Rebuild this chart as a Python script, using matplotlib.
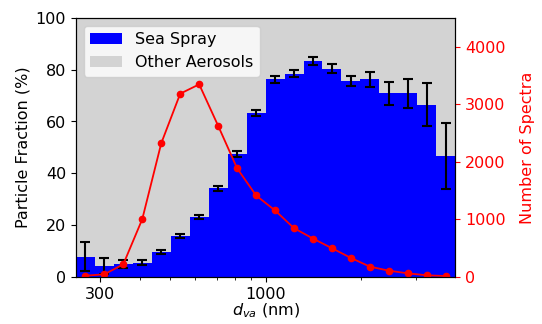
import numpy as np
import matplotlib
matplotlib.use("Agg")
import matplotlib.pyplot as plt
import matplotlib.ticker as plticker

# bin edges in d_va (nm), log spaced
bin_edges = np.logspace(2.4, 3.6, 21)
bin_centers = np.sqrt(bin_edges[:-1] * bin_edges[1:])

# sea spray fraction (%) and its uncertainty
sea_spray = [7.8, 4.2, 5.0, 5.5, 9.6, 15.8, 23.0, 34.2, 47.5, 63.2,
             76.3, 78.4, 83.4, 80.3, 75.7, 76.3, 70.9, 70.9, 66.5, 46.7]
sea_spray_err = [5.6, 3.0, 1.5, 1.0, 0.8, 0.8, 0.8, 1.0, 1.2, 1.2,
                 1.3, 1.3, 1.5, 1.7, 2.0, 2.8, 4.4, 5.5, 8.2, 12.9]

# number of spectra per bin
n_spectra = [23, 47, 221, 1005, 2322, 3183, 3345, 2625, 1887, 1416,
             1155, 848, 667, 500, 331, 180, 110, 64, 30, 17]

fs = 11.5

fig = plt.figure(figsize=(5.42, 3.24), dpi=100)
ax = fig.add_axes([0.140, 0.145, 0.700, 0.800])

widths = np.diff(bin_edges)
other = [100 - v for v in sea_spray]
ax.bar(bin_edges[:-1], sea_spray, width=widths, align='edge', color='blue', label='Sea Spray')
ax.bar(bin_edges[:-1], other, width=widths, bottom=sea_spray, align='edge',
       color='lightgrey', label='Other Aerosols')
ax.errorbar(bin_centers, sea_spray, yerr=sea_spray_err, fmt='none', ecolor='black',
            elinewidth=1.5, capsize=3.5, capthick=1.5)

ax.set_xscale('log')
ax.set_xlim(bin_edges[0], bin_edges[-1])
ax.set_ylim(0, 100)
ax.xaxis.set_major_locator(plticker.FixedLocator([300, 1000]))
ax.xaxis.set_major_formatter(plticker.FixedFormatter(['300', '1000']))
ax.xaxis.set_minor_locator(plticker.LogLocator(base=10, subs=np.arange(2, 10), numticks=20))
ax.xaxis.set_minor_formatter(plticker.NullFormatter())
ax.tick_params(labelsize=fs)
ax.set_xlabel('$d_{va}$ (nm)', fontsize=fs, labelpad=0)
ax.set_ylabel('Particle Fraction (%)', fontsize=fs)
ax.legend(loc='upper left', fontsize=fs, borderaxespad=0.5)

ax2 = ax.twinx()
ax2.plot(bin_centers, n_spectra, '-', color='red', marker='o', markersize=4.5, linewidth=1.3)
ax2.set_ylim(0, 4500)
ax2.yaxis.set_major_locator(plticker.MultipleLocator(1000))
ax2.tick_params(axis='y', colors='red', labelsize=fs)
ax2.set_ylabel('Number of Spectra', color='red', fontsize=fs, labelpad=10)

fig.savefig('out.png', dpi=100)
